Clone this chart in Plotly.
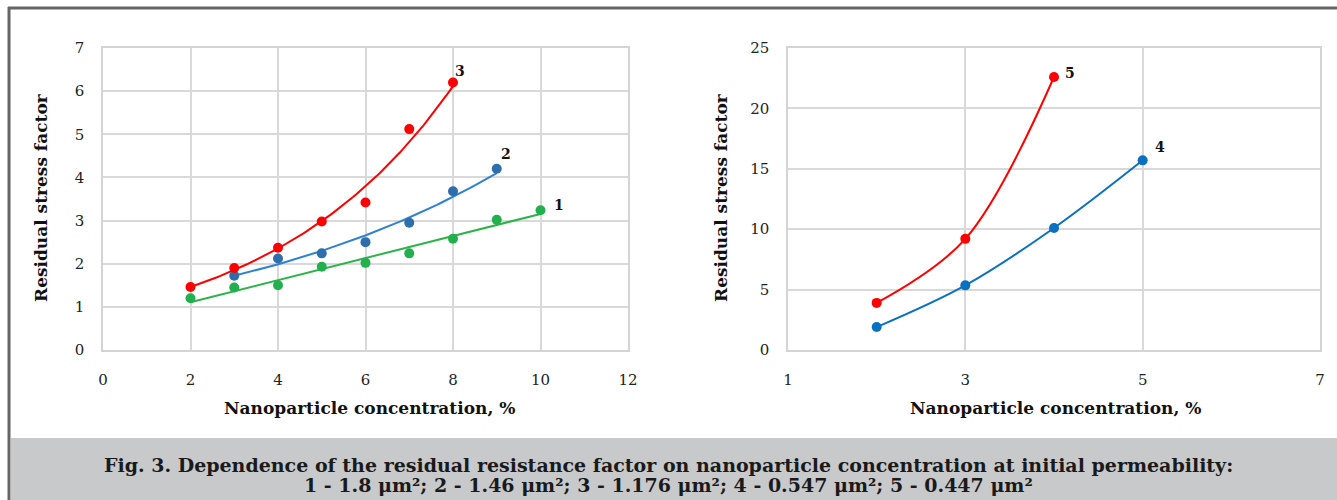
import numpy as np
import plotly.graph_objects as go

W, H = 1337, 500

# ---- data (left chart) ----
x1 = [2, 3, 4, 5, 6, 7, 8, 9, 10]
y1 = [1.20, 1.45, 1.50, 1.93, 2.02, 2.24, 2.58, 3.02, 3.24]
x2 = [3, 4, 5, 6, 7, 8, 9]
y2 = [1.72, 2.12, 2.24, 2.50, 2.95, 3.68, 4.20]
x3 = [2, 3, 4, 5, 6, 7, 8]
y3 = [1.46, 1.90, 2.37, 2.98, 3.42, 5.12, 6.20]

# ---- data (right chart) ----
x4 = [2, 3, 4, 5]
y4 = [1.90, 5.35, 10.10, 15.70]
x5 = [2, 3, 4]
y5 = [3.90, 9.20, 22.60]

left_xticks = [0, 2, 4, 6, 8, 10, 12]
left_yticks = [0, 1, 2, 3, 4, 5, 6, 7]
right_xticks = [1, 3, 5, 7]
right_yticks = [0, 5, 10, 15, 20, 25]

labels_left = [("1", 10.42, 3.35), ("2", 9.22, 4.55), ("3", 8.15, 6.47)]
labels_right = [("4", 5.2, 16.8), ("5", 4.18, 22.9)]

x_title = "Nanoparticle concentration, %"
y_title = "Residual stress factor"
caption1 = "Fig. 3. Dependence of the residual resistance factor on nanoparticle concentration at initial permeability:"
caption2 = "1 - 1.8 μm²; 2 - 1.46 μm²; 3 - 1.176 μm²; 4 - 0.547 μm²; 5 - 0.447 μm²"

GREEN_M, GREEN_L = "#22b04f", "#2db34a"
BLUE_M, BLUE_L = "#2e6fab", "#2f82d2"
RED = "#ff0000"
BLUE_R = "#0a70c0"
SERIF = "DejaVu Serif"
TICKSERIF = "DejaVu Serif"

def lin_fit(x, y):
    a, b = np.polyfit(x, y, 1)
    xs = np.linspace(min(x), max(x), 50)
    return xs, a * xs + b

def exp_fit(x, y):
    a, b = np.polyfit(x, np.log(y), 1)
    xs = np.linspace(min(x), max(x), 80)
    return xs, np.exp(a * xs + b)

fig = go.Figure()

# trendlines
for (x, y, col, fit) in [(x1, y1, GREEN_L, lin_fit), (x2, y2, BLUE_L, exp_fit), (x3, y3, RED, exp_fit)]:
    xs, ys = fit(x, y)
    fig.add_trace(go.Scatter(x=xs, y=ys, mode="lines", line=dict(color=col, width=2),
                             xaxis="x", yaxis="y", showlegend=False, hoverinfo="skip"))
# markers
for (x, y, col) in [(x1, y1, GREEN_M), (x2, y2, BLUE_M), (x3, y3, RED)]:
    fig.add_trace(go.Scatter(x=x, y=y, mode="markers", marker=dict(color=col, size=10),
                             xaxis="x", yaxis="y", showlegend=False))

# right chart
for (x, y, col) in [(x4, y4, BLUE_R), (x5, y5, RED)]:
    fig.add_trace(go.Scatter(x=x, y=y, mode="lines+markers",
                             line=dict(color=col, width=2, shape="spline", smoothing=1.0),
                             marker=dict(color=col, size=10),
                             xaxis="x2", yaxis="y2", showlegend=False))

tickfont = dict(family=TICKSERIF, size=15, color="#222222")
axis_common = dict(showgrid=True, gridcolor="#d9d9d9", gridwidth=1.5, zeroline=False,
                   showline=True, mirror=True, linecolor="#d4d4d4", linewidth=1.5,
                   ticks="", automargin=False, tickfont=tickfont)

ydom = [1 - 350 / H, 1 - 48 / H]
fig.update_layout(
    width=W, height=H, margin=dict(l=0, r=0, t=0, b=0),
    paper_bgcolor="white", plot_bgcolor="white",
    font=dict(family=TICKSERIF, size=15, color="#222222"),
    xaxis=dict(domain=[103 / W, 628 / W], range=[0, 12], tickvals=left_xticks,
               ticklabelstandoff=15, anchor="y", **axis_common),
    yaxis=dict(domain=ydom, range=[0, 7], tickvals=left_yticks,
               ticklabelstandoff=14, anchor="x", **axis_common),
    xaxis2=dict(domain=[788 / W, 1320 / W], range=[1, 7], tickvals=right_xticks,
                ticklabelstandoff=15, anchor="y2", **axis_common),
    yaxis2=dict(domain=ydom, range=[0, 25], tickvals=right_yticks,
                ticklabelstandoff=14, anchor="x2", **axis_common),
)

shapes = [
    # caption box
    dict(type="rect", xref="paper", yref="paper", x0=11 / W, x1=1.0, y0=0, y1=1 - 438 / H,
         fillcolor="#c8c9cb", line=dict(width=0), layer="below"),
    # frame lines
    dict(type="line", xref="paper", yref="paper", x0=8 / W, x1=1.0, y0=1 - 8 / H, y1=1 - 8 / H,
         line=dict(color="#666666", width=3)),
    dict(type="line", xref="paper", yref="paper", x0=9 / W, x1=9 / W, y0=0, y1=1 - 7 / H,
         line=dict(color="#666666", width=3)),
]
fig.update_layout(shapes=shapes)

ann = []
tfont = dict(family=SERIF, size=17, color="#111111")
ann.append(dict(text="<b>%s</b>" % x_title, xref="paper", yref="paper", x=369 / W, y=1 - 408 / H,
                showarrow=False, font=tfont, xanchor="center", yanchor="middle"))
ann.append(dict(text="<b>%s</b>" % x_title, xref="paper", yref="paper", x=1055 / W, y=1 - 408 / H,
                showarrow=False, font=tfont, xanchor="center", yanchor="middle"))
ann.append(dict(text="<b>%s</b>" % y_title, xref="paper", yref="paper", x=41 / W, y=1 - 198 / H,
                showarrow=False, font=tfont, textangle=-90, xanchor="center", yanchor="middle"))
ann.append(dict(text="<b>%s</b>" % y_title, xref="paper", yref="paper", x=721 / W, y=1 - 198 / H,
                showarrow=False, font=tfont, textangle=-90, xanchor="center", yanchor="middle"))
lfont = dict(family=SERIF, size=14, color="#111111")
for t, x, y in labels_left:
    ann.append(dict(text="<b>%s</b>" % t, x=x, y=y, xref="x", yref="y", showarrow=False, font=lfont))
for t, x, y in labels_right:
    ann.append(dict(text="<b>%s</b>" % t, x=x, y=y, xref="x2", yref="y2", showarrow=False, font=lfont))
cfont = dict(family=SERIF, size=19, color="#1a1a1a")
ann.append(dict(text="<b>%s</b>" % caption1, xref="paper", yref="paper", x=668 / W, y=1 - 465 / H,
                showarrow=False, font=cfont, xanchor="center", yanchor="middle"))
ann.append(dict(text="<b>%s</b>" % caption2, xref="paper", yref="paper", x=668 / W, y=1 - 485 / H,
                showarrow=False, font=cfont, xanchor="center", yanchor="middle"))
fig.update_layout(annotations=ann)

fig.write_html("out.html")
